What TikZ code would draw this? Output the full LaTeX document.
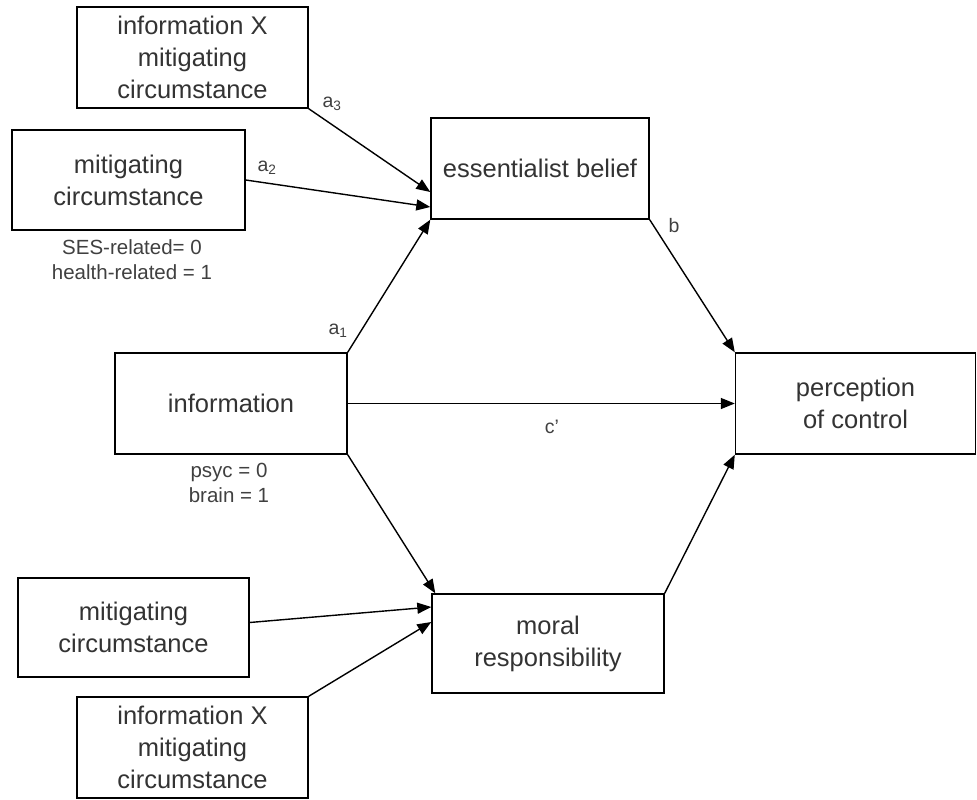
\documentclass[tikz,border=0pt]{standalone}
\usepackage{fontspec}
\setmainfont{Liberation Sans}
\usetikzlibrary{arrows.meta}

\begin{document}
\begin{tikzpicture}[x=1pt,y=-1pt,
  box/.style={draw,line width=1.4pt,inner sep=0pt,align=center,text=black!80,font=\fontsize{25.5}{32}\selectfont},
  note/.style={align=center,text=black!75,font=\fontsize{20.5}{25}\selectfont},
  coef/.style={text=black!75,font=\fontsize{19.5}{22}\selectfont},
  arr/.style={->,>={Triangle[length=14pt,width=11pt]},line width=1.4pt}]
\useasboundingbox (0,0) rectangle (977,800);

\node[box,minimum width=231pt,minimum height=101pt] (ixm top) at (192.5,57.5) {information X\\mitigating\\circumstance};
\node[box,minimum width=233pt,minimum height=100pt] (mit top) at (128.5,180) {mitigating\\circumstance};
\node[box,minimum width=218pt,minimum height=101pt] (belief) at (540,168.5) {essentialist belief};
\node[box,minimum width=232pt,minimum height=101pt] (info) at (231,403.5) {information};
\node[box,minimum width=240pt,minimum height=101pt] (control) at (855.5,403.5) {perception\\of control};
\node[box,minimum width=232pt,minimum height=99pt] (moral) at (548,643.5) {moral\\responsibility};
\node[box,minimum width=231pt,minimum height=99pt] (mit low) at (133.5,627.5) {mitigating\\circumstance};
\node[box,minimum width=231pt,minimum height=101pt] (ixm low) at (192.5,747.5) {information X\\mitigating\\circumstance};

\node[note] (ses note) at (132,260) {SES-related= 0\\health-related = 1};
\node[note] (info note) at (229,483) {psyc = 0\\brain = 1};

\node[coef] (a3) at (332,104) {a\textsubscript{3}};
\node[coef] (a2) at (267,168) {a\textsubscript{2}};
\node[coef] (a1) at (338,331) {a\textsubscript{1}};
\node[coef] (b) at (674,226) {b};
\node[coef] (c) at (552,427) {c’};

\draw (ixm top.south east) edge[arr] ([yshift=-23.5pt]belief.west);
\draw (mit top.east) edge[arr] ([yshift=-38.5pt]belief.west);
\draw (info.north east) edge[arr] (belief.south west);
\draw (info.east) edge[arr] (control.west);
\draw (info.south east) edge[arr] ([xshift=4pt]moral.north west);
\draw (belief.south east) edge[arr] (control.north west);
\draw (moral.north east) edge[arr] (control.south west);
\draw ([yshift=5pt]mit low.east) edge[arr] ([yshift=36.5pt]moral.west);
\draw (ixm low.north east) edge[arr] ([yshift=21.5pt]moral.west);
\end{tikzpicture}
\end{document}
